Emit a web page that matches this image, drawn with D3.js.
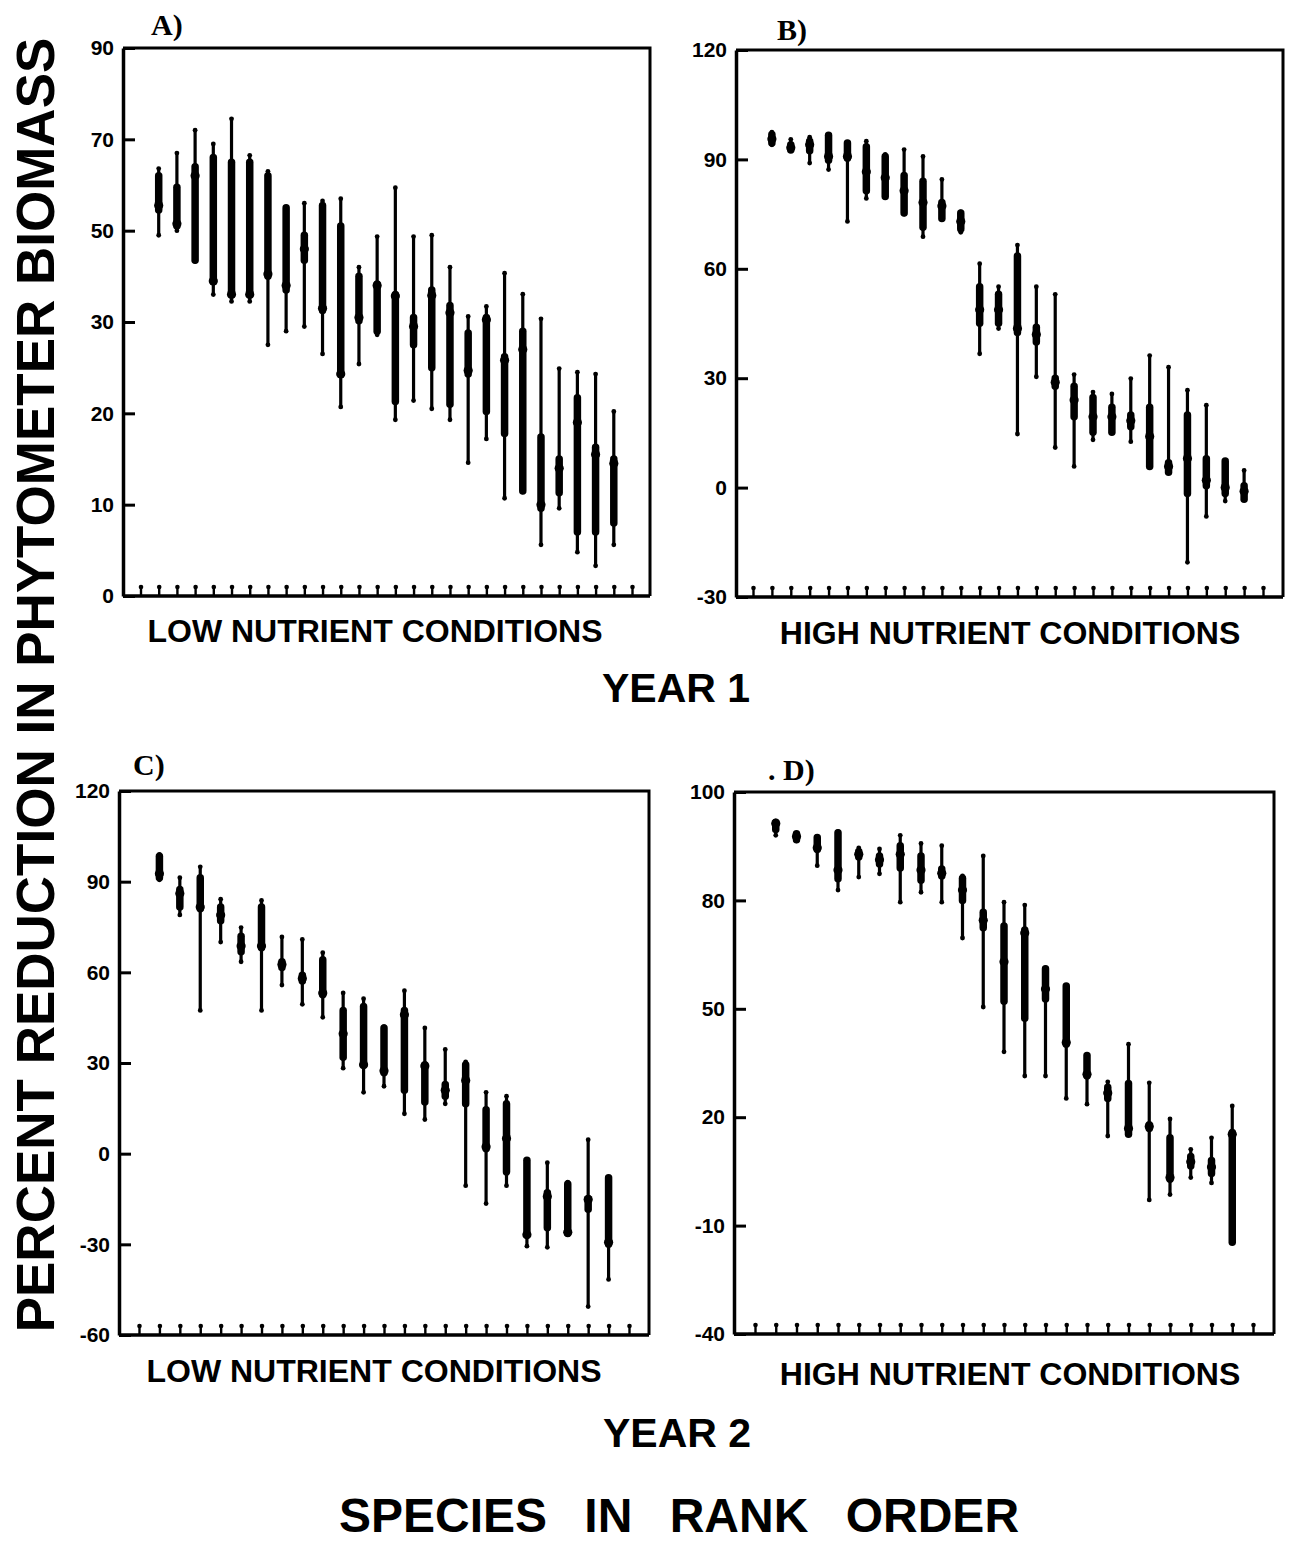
<!DOCTYPE html>
<html>
<head>
<meta charset="utf-8">
<script src="https://cdn.jsdelivr.net/npm/d3@7"></script>
<style>
  body { margin: 0; background: #fff; }
  svg { display: block; }
  text { font-family: "Liberation Sans", Arial, sans-serif; font-weight: bold; fill: #000; }
  .plabel { font-family: "Liberation Serif", "Times New Roman", serif; }
</style>
</head>
<body>
<svg id="fig" width="1290" height="1543"></svg>
<script>
// Percent reduction in phytometer biomass, species in rank order.
// Each species: thin line = full range (lo..hi), thick bar = inner range (q1..q3), dot = centre value.

// ---- A) Year 1, low nutrient conditions ----
const aHi  = [63.6, 67, 72, 69, 74.5, 66.5, 63, 55, 56, 56.5, 57, 42, 48.7, 59.4, 48.7, 49, 42, 31.2, 33.4, 40.7, 36.1, 30.7, 24.9, 24.5, 24.3, 20.2];
const aQ3  = [62, 59.5, 64, 66, 65, 65, 62, 55, 49, 55.5, 51, 40, 38.3, 36, 31, 37, 33.6, 28.8, 31, 26.2, 29, 17.4, 15, 21.7, 16.3, 15];
const aMid = [55.5, 51.5, 62, 39, 36, 36, 40.5, 38, 46, 33, 24.3, 31, 38, 35.7, 29.5, 35.8, 32, 24.7, 30.5, 25.8, 27, 10, 14, 19, 15.5, 14.5];
const aQ1  = [54.5, 51, 43.5, 38.8, 36.5, 36.5, 40, 37, 43.5, 32.5, 24.3, 30.3, 29, 21.3, 27.5, 25, 21, 24.3, 20.2, 17.8, 11.5, 9.6, 11.3, 7, 7, 8];
const aLo  = [49, 50, 43.3, 36, 34.5, 34.5, 27.5, 29, 29.5, 26.5, 20.7, 25.4, 28.6, 19.3, 21.4, 20.5, 19.3, 14.6, 17.2, 10.7, 11.4, 5.6, 9.6, 4.8, 3.3, 5.6];
const aTicks = [0, 10, 20, 30, 50, 70, 90];

// ---- B) Year 1, high nutrient conditions ----
const bHi  = [97.5, 95.5, 96.1, 96.6, 94.5, 95, 91.4, 92.7, 90.8, 84.5, 75.6, 61.4, 55.1, 66.5, 55.1, 53, 31, 26.2, 25.7, 29.9, 36.2, 33, 26.7, 22.6, 7.3, 4.7];
const bQ3  = [96.8, 94, 95, 96.6, 94.5, 93.5, 90.8, 85.6, 84, 78.2, 75.3, 55.1, 53, 63.5, 44, 30, 27.8, 24.7, 22, 19.9, 22, 6.8, 19.9, 7.9, 7.3, 0.5];
const bMid = [95.6, 93.2, 94, 90.8, 90.8, 86.6, 85, 81.4, 78.2, 77.2, 73, 48.8, 48.8, 43.6, 42, 28.9, 24, 19.4, 19.4, 18.3, 14, 5.8, 8, 2, 0, -1];
const bQ1  = [94.5, 92.6, 92.4, 89.8, 90.3, 81.4, 79.8, 75.3, 71.4, 73.8, 70.9, 45.1, 45.1, 42.5, 39.9, 27.8, 19.4, 15.2, 15.2, 16.7, 5.8, 4.2, -1.6, 0.5, -1.6, -3.2];
const bLo  = [94, 92.4, 89, 87.2, 73, 79.3, 79.8, 75, 68.8, 73.5, 70, 36.7, 43.6, 14.7, 30.4, 11, 5.8, 13.1, 15.2, 12.6, 5.8, 4.2, -20.5, -7.9, -3.7, -3.2];
const bTicks = [-30, 0, 30, 60, 90, 120];

// ---- C) Year 2, low nutrient conditions ----
const cHi  = [99, 91.3, 94.9, 84.2, 74.8, 83.8, 71.7, 70.9, 66.5, 53.2, 51.3, 42, 53.9, 41.6, 34.5, 30.4, 20.3, 19, -1.9, -3, -9.4, 4.6, -8];
const cQ3  = [98.4, 87.4, 91.3, 81.6, 71.9, 81.6, 63.5, 59, 64.2, 47.4, 48.7, 41.6, 47.4, 29.4, 22.9, 29.4, 14.5, 16.5, -2.2, -12.9, -10, -14.8, -8];
const cMid = [92.6, 86.1, 81.6, 79, 68.7, 68.7, 62.6, 58, 53.2, 39.7, 29.4, 27.4, 46, 29, 21, 24.2, 2.3, 5, -26.8, -14.2, -26, -15.2, -29.3];
const cQ1  = [91.3, 81.6, 81, 77.1, 66.8, 68.1, 61.6, 57.1, 52.6, 31.9, 29.4, 26.8, 21, 17.1, 19, 16.5, 1.6, -6.1, -26.8, -24.5, -26.4, -18.4, -30];
const cLo  = [90.6, 79, 47.4, 70, 63.5, 47.4, 55.8, 49.4, 45.1, 28.3, 20.3, 22.3, 13.2, 11.3, 16.5, -10.6, -16.5, -10.6, -30.6, -31, -26.8, -50.6, -41.6];
const cTicks = [-60, -30, 0, 30, 60, 90, 120];

// ---- D) Year 2, high nutrient conditions ----
const dHi  = [94.6, 92.4, 91.8, 92.7, 89.7, 89.5, 92, 90.5, 90.1, 84.5, 88.2, 79.5, 78.7, 61.3, 56.5, 37.1, 29.8, 40.2, 29.5, 19.5, 11.1, 14.3, 23.1];
const dQ3  = [94.4, 92.3, 91.6, 92.5, 89, 88.2, 90.1, 88.2, 85.8, 84.1, 76.7, 72.9, 71.8, 61.1, 56.3, 37.1, 28.3, 29.3, 17.9, 14.3, 9.1, 8, 15.8];
const dMid = [94.2, 91.8, 89.7, 85.6, 88.5, 87.5, 88.5, 85.6, 85, 81.9, 74.5, 63, 71, 55.5, 40.7, 31.9, 26.7, 16.9, 17.4, 3.3, 7.7, 6.2, 15.3];
const dQ1  = [93.1, 91.2, 89.4, 84, 88, 86.7, 86, 83.7, 84.5, 80, 72.4, 52.1, 47.4, 52.7, 40.2, 31.4, 25.2, 15.3, 16.9, 2.8, 6.5, 4.4, -14.6];
const dLo  = [92, 91, 86.4, 81.9, 84.3, 84.9, 79.5, 81.5, 79.5, 69.6, 50.5, 38.1, 31.4, 31.4, 25.2, 23.6, 14.8, 15.3, -2.9, -1.4, 3.3, 1.8, -14.6];
const dTicks = [-40, -10, 20, 50, 80, 100];

const panels = [
  { hi: aHi, q3: aQ3, mid: aMid, q1: aQ1, lo: aLo, ticks: aTicks,
    box: { left: 123, right: 650, top: 48, bottom: 596 }, xr: [140.5, 632],
    tag: { x: 151, y: 35, text: "A)" },
    sub: { x: 375, y: 642, text: "LOW NUTRIENT CONDITIONS" } },
  { hi: bHi, q3: bQ3, mid: bMid, q1: bQ1, lo: bLo, ticks: bTicks,
    box: { left: 736, right: 1283, top: 50, bottom: 597 }, xr: [753, 1263],
    tag: { x: 777, y: 40, text: "B)" },
    sub: { x: 1010, y: 644, text: "HIGH NUTRIENT CONDITIONS" } },
  { hi: cHi, q3: cQ3, mid: cMid, q1: cQ1, lo: cLo, ticks: cTicks,
    box: { left: 119, right: 649, top: 791, bottom: 1335 }, xr: [139, 629],
    tag: { x: 133, y: 775, text: "C)" },
    sub: { x: 374, y: 1382, text: "LOW NUTRIENT CONDITIONS" } },
  { hi: dHi, q3: dQ3, mid: dMid, q1: dQ1, lo: dLo, ticks: dTicks,
    box: { left: 734, right: 1274, top: 792, bottom: 1334 }, xr: [755, 1253],
    tag: { x: 768, y: 780, text: ". D)" },
    sub: { x: 1010, y: 1385, text: "HIGH NUTRIENT CONDITIONS" } }
];

const svg = d3.select("#fig");
svg.append("rect").attr("width", 1290).attr("height", 1543).attr("fill", "#fff");

panels.forEach(p => {
  const n = p.hi.length;
  const b = p.box;
  const g = svg.append("g");

  // Tick labels sit at equal spacing, so the value scale is piecewise linear between them.
  const y = d3.scaleLinear()
    .domain(p.ticks)
    .range(p.ticks.map((_, i) => b.bottom - i * (b.bottom - b.top) / (p.ticks.length - 1)));
  // Species are numbered 1..n; the axis carries one empty slot at each end.
  const x = d3.scaleLinear().domain([0, n + 1]).range(p.xr);

  // frame: top and right edges
  g.append("path")
    .attr("d", `M${b.left},${b.top}H${b.right}V${b.bottom}`)
    .attr("fill", "none").attr("stroke", "#000").attr("stroke-width", 3);

  // y axis with inward ticks; plain hyphen for negatives
  const yAxis = d3.axisLeft(y).tickValues(p.ticks).tickSizeInner(-12).tickSizeOuter(0)
    .tickPadding(9).tickFormat(d => String(d));
  const ya = g.append("g").attr("transform", `translate(${b.left},0)`).call(yAxis);
  ya.select(".domain").attr("stroke-width", 3.5);
  ya.selectAll(".tick line").attr("stroke-width", 3);
  ya.selectAll(".tick text").attr("font-size", 21)
    .style("font-family", "'Liberation Sans', Arial, sans-serif").style("font-weight", "bold");

  // x axis: a small inward tick for every rank position
  const xTicks = d3.range(0, n + 2);
  const xAxis = d3.axisBottom(x).tickValues(xTicks).tickSizeInner(-9).tickSizeOuter(0).tickFormat("");
  const xa = g.append("g").attr("transform", `translate(0,${b.bottom})`).call(xAxis);
  xa.select(".domain").attr("d", `M${b.left},0H${b.right}`).attr("stroke-width", 3.5);
  xa.selectAll(".tick line").attr("stroke-width", 2.4);
  xa.selectAll(".tick").append("circle").attr("cy", -9).attr("r", 2.3).attr("fill", "#000");

  const idx = d3.range(n);
  // full range
  g.append("g").selectAll("line").data(idx).join("line")
    .attr("x1", i => x(i + 1)).attr("x2", i => x(i + 1))
    .attr("y1", i => y(p.hi[i])).attr("y2", i => y(p.lo[i]))
    .attr("stroke", "#000").attr("stroke-width", 3.2).attr("stroke-linecap", "round");
  // whisker end dots
  g.append("g").selectAll("circle").data(idx.flatMap(i => [[i, p.hi[i]], [i, p.lo[i]]])).join("circle")
    .attr("cx", d => x(d[0] + 1)).attr("cy", d => y(d[1])).attr("r", 2.4).attr("fill", "#000");
  // inner range
  g.append("g").selectAll("line").data(idx).join("line")
    .attr("x1", i => x(i + 1)).attr("x2", i => x(i + 1))
    .attr("y1", i => y(p.q3[i])).attr("y2", i => y(p.q1[i]))
    .attr("stroke", "#000").attr("stroke-width", 7.5).attr("stroke-linecap", "round");
  // centre value
  g.append("g").selectAll("circle").data(idx).join("circle")
    .attr("cx", i => x(i + 1)).attr("cy", i => y(p.mid[i])).attr("r", 4.6).attr("fill", "#000");

  // panel tag
  svg.append("text").attr("class", "plabel").attr("x", p.tag.x).attr("y", p.tag.y)
    .attr("font-size", 30).text(p.tag.text);
  // condition caption
  svg.append("text").attr("x", p.sub.x).attr("y", p.sub.y).attr("text-anchor", "middle")
    .attr("font-size", 32).text(p.sub.text);
});

// year captions
svg.append("text").attr("x", 676).attr("y", 702).attr("text-anchor", "middle")
  .attr("font-size", 41).text("YEAR 1");
svg.append("text").attr("x", 677).attr("y", 1447).attr("text-anchor", "middle")
  .attr("font-size", 41).text("YEAR 2");

// shared x title, words set a little apart
const xTitleWords = ["SPECIES", "IN", "RANK", "ORDER"];
svg.append("text").attr("x", 679).attr("y", 1532).attr("text-anchor", "middle")
  .attr("font-size", 48)
  .text(xTitleWords.join("\u2002 "));

// shared y title
svg.append("text").attr("transform", "translate(54,685) rotate(-90)").attr("text-anchor", "middle")
  .attr("font-size", 53).text("PERCENT REDUCTION IN PHYTOMETER BIOMASS");
</script>
</body>
</html>
